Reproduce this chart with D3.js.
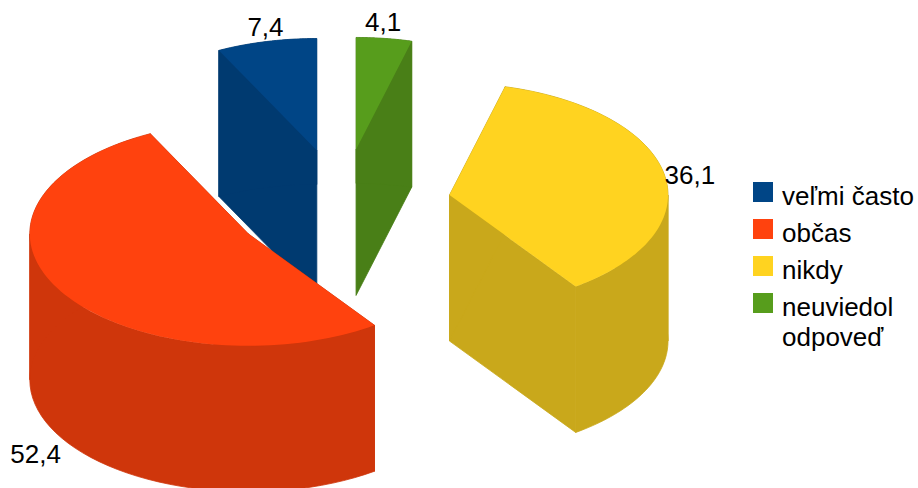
<!DOCTYPE html>
<html><head><meta charset="utf-8">
<script src="https://cdnjs.cloudflare.com/ajax/libs/d3/7.9.0/d3.min.js"></script>
<style>html,body{margin:0;padding:0;background:#fff}svg{display:block}text{font-family:"Liberation Sans",Arial,sans-serif;fill:#000}</style>
</head><body><div id="c"></div>
<script>
const categories = ["veľmi často","občas","nikdy","neuviedol odpoveď"];
const values = [7.4,52.4,36.1,4.1];
const valueLabels = ["7,4","52,4","36,1","4,1"];
const topColors = ["#004586","#ff420e","#ffd320","#579d1c"];
const sideColors = ["#003a70","#cf360b","#c9a81b","#497f17"];
const legendLines = [["veľmi často"],["občas"],["nikdy"],["neuviedol","odpoveď"]];

const W=918,H=488;
const svg=d3.select("#c").append("svg").attr("width",W).attr("height",H);
const cx=342, cy=205, rx=218.5, ry=112, depth=146, explode=0.5;
const px=d3.scaleLinear().domain([-1,1]).range([cx-rx,cx+rx]);
const py=d3.scaleLinear().domain([-1,1]).range([cy+ry,cy-ry]);
// angles run counter-clockwise from twelve o'clock, as in the source chart
const pie=d3.pie().sort(null).value(d=>d).startAngle(0).endAngle(-2*Math.PI);
const arcs=pie(values).map((a,i)=>{
  const mid=(a.startAngle+a.endAngle)/2;
  return {i,a0:a.startAngle,a1:a.endAngle,mid,ox:explode*Math.sin(mid),oy:explode*Math.cos(mid)};
});
const pt=(s,ang,r=1,z=0)=>[px(s.ox+r*Math.sin(ang)),py(s.oy+r*Math.cos(ang))+z];
const line=d3.line();
const STEPS=96;
const angAt=(s,k)=>s.a0+(s.a1-s.a0)*k/STEPS;
function rim(s){return d3.range(0,STEPS+1).map(k=>pt(s,angAt(s,k)));}
function topPath(s){return line([pt(s,0,0),...rim(s)])+"Z";}
// outer wall split at the ellipse's left and right extremes so each part is a simple polygon
function wallParts(s){
  const lo=Math.min(s.a0,s.a1),hi=Math.max(s.a0,s.a1);
  const cuts=[lo];
  [-3*Math.PI/2,-Math.PI/2].forEach(b=>{if(b>lo&&b<hi)cuts.push(b);});
  cuts.push(hi);
  return d3.pairs(cuts).map(([u,v])=>{
    const as=d3.range(0,41).map(k=>u+(v-u)*k/40);
    return line([...as.map(a=>pt(s,a)),...as.slice().reverse().map(a=>pt(s,a,1,depth))])+"Z";
  });
}
function cut(s,ang){return line([pt(s,0,0),pt(s,ang),pt(s,ang,1,depth),pt(s,0,0,depth)])+"Z";}
const order=[0,3,2,1];
const g=svg.append("g");
order.forEach(i=>{
  const s=arcs[i];
  const sl=g.append("g");
  const side=d=>sl.append("path").attr("d",d).attr("fill",sideColors[i]).attr("stroke",sideColors[i]).attr("stroke-width",0.8);
  [s.a0,s.a1].forEach(a=>{ if(Math.abs(Math.sin(a))>1e-6) side(cut(s,a)); });
  wallParts(s).forEach(side);
  sl.append("path").attr("d",topPath(s)).attr("fill",topColors[i]);
});
// data labels sit at each slice's mid-rim
const fs=26;
arcs.forEach((s,i)=>{
  const low=Math.cos(s.mid)<-0.2, sideLabel=Math.abs(Math.sin(s.mid))>0.8;
  const p=pt(s,s.mid,1,low?depth:0);
  let anchor="middle",dx=-1,dy=-6;
  if(sideLabel&&!low){anchor="start";dx=0;dy=9;}
  if(low){anchor="end";dx=0;dy=26;}
  if(i===3){dx=-1;dy=-7;}
  svg.append("text").attr("x",p[0]+dx).attr("y",p[1]+dy).attr("text-anchor",anchor)
    .attr("font-size",fs).text(valueLabels[i]);
});
// legend
const ly=d3.scaleBand().domain(categories).range([182,330]);
const leg=svg.append("g");
categories.forEach((c,i)=>{
  const y=ly(c);
  leg.append("rect").attr("x",753).attr("y",y).attr("width",20).attr("height",20).attr("fill",topColors[i]);
  legendLines[i].forEach((t,k)=>{
    leg.append("text").attr("x",782).attr("y",y+23+k*30).attr("font-size",fs).text(t);
  });
});
</script></body></html>
